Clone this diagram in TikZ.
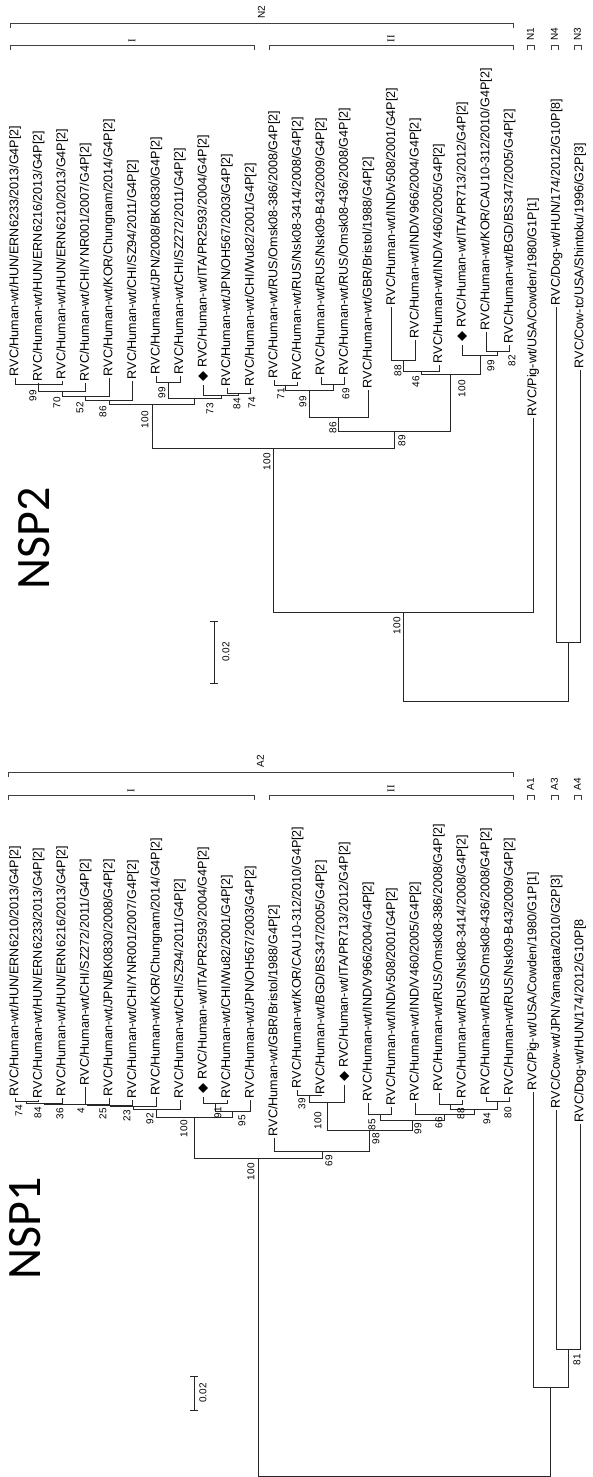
\documentclass[tikz,border=0pt]{standalone}
\usepackage{fontspec}
\setmainfont{Liberation Sans}
\newfontfamily\dvsans{DejaVu Sans}
\newfontfamily\lserif{Liberation Serif}
\newfontfamily\carlito{Carlito}
\newcommand{\dmd}{\kern2pt{\dvsans\fontsize{13}{13}\selectfont\char"25C6}\ }
\begin{document}
\begin{tikzpicture}[x=1pt,y=-1pt,line width=0.7pt,
    tip/.style={rotate=90,anchor=west,inner sep=1.5pt,font=\fontsize{12.6}{14}\selectfont},
    bs/.style={rotate=90,anchor=east,inner sep=0pt,font=\fontsize{10}{12}\selectfont},
    grp/.style={rotate=90,anchor=west,inner sep=0pt,font=\fontsize{10}{12}\selectfont},
    rom/.style={rotate=90,anchor=west,inner sep=0pt,font=\lserif\fontsize{10.5}{12}\selectfont},
    title/.style={rotate=90,inner sep=0pt,font=\carlito\fontsize{48}{50}\selectfont},
    br/.style={draw=black!75,line width=0.6pt},
    tr/.style={draw=black!85}]
\useasboundingbox (0,0) rectangle (593,1477);

%% ---------------- NSP2 ----------------
\node[title] (T2) at (34,538) {NSP2};

% clusters
\draw[br] (10,28) -- (10,23) -- (513,23) -- (513,28);
\draw[br] (10,50) -- (10,45) -- (254,45) -- (254,50);
\draw[br] (269,50) -- (269,45) -- (513,45) -- (513,50);
\draw[br] (527,50) -- (527,45) -- (534,45) -- (534,50);
\draw[br] (551,50) -- (551,45) -- (558,45) -- (558,50);
\draw[br] (574,50) -- (574,45) -- (581,45) -- (581,50);
\node[grp] (N2) at (261.5,19) {N2};
\node[rom] (N2i) at (132,42.5) {I};
\node[rom] (N2ii) at (391,42.5) {II};
\node[grp] (N1) at (530.5,41) {N1};
\node[grp] (N4) at (554.5,41) {N4};
\node[grp] (N3) at (577.5,41) {N3};

% strains
\node[tip] (a1) at (15.00,378) {RVC/Human-wt/HUN/ERN6233/2013/G4P[2]};
\node[tip] (a2) at (38.55,383) {RVC/Human-wt/HUN/ERN6216/2013/G4P[2]};
\node[tip] (a3) at (62.10,381) {RVC/Human-wt/HUN/ERN6210/2013/G4P[2]};
\node[tip] (a4) at (85.65,383) {RVC/Human-wt/CHI/YNR001/2007/G4P[2]};
\node[tip] (a5) at (109.20,378) {RVC/Human-wt/KOR/Chungnam/2014/G4P[2]};
\node[tip] (a6) at (132.75,381) {RVC/Human-wt/CHI/SZ94/2011/G4P[2]};
\node[tip] (a7) at (156.30,376) {RVC/Human-wt/JPN/2008/BK0830/G4P[2]};
\node[tip] (a8) at (179.85,376) {RVC/Human-wt/CHI/SZ272/2011/G4P[2]};
\node[tip] (a9) at (203.40,385) {\dmd RVC/Human-wt/ITA/PR2593/2004/G4P[2]};
\node[tip] (a10) at (226.95,388) {RVC/Human-wt/JPN/OH567/2003/G4P[2]};
\node[tip] (a11) at (250.50,388) {RVC/Human-wt/CHI/Wu82/2001/G4P[2]};
\node[tip] (a12) at (274.05,380) {RVC/Human-wt/RUS/Omsk08-386/2008/G4P[2]};
\node[tip] (a13) at (297.60,382) {RVC/Human-wt/RUS/Nsk08-3414/2008/G4P[2]};
\node[tip] (a14) at (321.15,377) {RVC/Human-wt/RUS/Nsk09-B43/2009/G4P[2]};
\node[tip] (a15) at (344.70,377) {RVC/Human-wt/RUS/Omsk08-436/2008/G4P[2]};
\node[tip] (a16) at (368.25,390) {RVC/Human-wt/GBR/Bristol/1988/G4P[2]};
\node[tip] (a17) at (391.80,307) {RVC/Human-wt/IND/v508/2001/G4P[2]};
\node[tip] (a18) at (415.35,340) {RVC/Human-wt/IND/V966/2004/G4P[2]};
\node[tip] (a19) at (438.90,365) {RVC/Human-wt/IND/V460/2005/G4P[2]};
\node[tip] (a20) at (462.45,345) {\dmd RVC/Human-wt/ITA/PR713/2012/G4P[2]};
\node[tip] (a21) at (486.00,332) {RVC/Human-wt/KOR/CAU10-312/2010/G4P[2]};
\node[tip] (a22) at (509.55,345) {RVC/Human-wt/BGD/BS347/2005/G4P[2]};
\node[tip] (a23) at (533.10,418) {RVC/Pig-wt/USA/Cowden/1980/G1P[1]};
\node[tip] (a24) at (556.65,307) {RVC/Dog-wt/HUN/174/2012/G10P[8]};
\node[tip] (a25) at (580.20,370) {RVC/Cow-tc/USA/Shintoku/1996/G2P[3]};

% internal nodes
\coordinate (q1) at (38.55,384);
\coordinate (q2) at (62.10,391);
\coordinate (q3) at (85.65,396);
\coordinate (q4) at (109.20,400);
\coordinate (q5) at (168.08,382);
\coordinate (q6) at (238.73,393);
\coordinate (q7) at (221.06,395);
\coordinate (q8) at (194.57,398);
\coordinate (q9) at (151.90,404);
\coordinate (q10) at (285.83,385);
\coordinate (q11) at (332.93,384);
\coordinate (q12) at (309.38,390);
\coordinate (q13) at (338.80,417);
\coordinate (q14) at (403.58,360);
\coordinate (q15) at (421.24,371);
\coordinate (q16) at (497.78,351);
\coordinate (q17) at (480.11,355);
\coordinate (q18) at (450.68,374);
\coordinate (q19) at (394.74,431);
\coordinate (q20) at (273.32,448);
\coordinate (q21) at (403.21,612);
\coordinate (q22) at (568.43,642);
\coordinate (q23) at (485.82,701);

\draw[tr] (q1) -| (a1.west) (q1) -| (a2.west) (q1) -| (a3.west);
\draw[tr] (q2) -| (q1) (q2) -| (a4.west);
\draw[tr] (q3) -| (q2) (q3) -| (a5.west);
\draw[tr] (q4) -| (q3) (q4) -| (a6.west);
\draw[tr] (q5) -| (a7.west) (q5) -| (a8.west);
\draw[tr] (q6) -| (a10.west) (q6) -| (a11.west);
\draw[tr] (q7) -| (a9.west) (q7) -| (q6);
\draw[tr] (q8) -| (q5) (q8) -| (q7);
\draw[tr] (q9) -| (q4) (q9) -| (q8);
\draw[tr] (q10) -| (a12.west) (q10) -| (a13.west);
\draw[tr] (q11) -| (a14.west) (q11) -| (a15.west);
\draw[tr] (q12) -| (q10) (q12) -| (q11);
\draw[tr] (q13) -| (q12) (q13) -| (a16.west);
\draw[tr] (q14) -| (a17.west) (q14) -| (a18.west);
\draw[tr] (q15) -| (q14) (q15) -| (a19.west);
\draw[tr] (q16) -| (a21.west) (q16) -| (a22.west);
\draw[tr] (q17) -| (a20.west) (q17) -| (q16);
\draw[tr] (q18) -| (q15) (q18) -| (q17);
\draw[tr] (q19) -| (q13) (q19) -| (q18);
\draw[tr] (q20) -| (q9) (q20) -| (q19);
\draw[tr] (q21) -| (q20) (q21) -| (a23.west);
\draw[tr] (q22) -| (a24.west) (q22) -| (a25.west);
\draw[tr] (q23) -| (q21) (q23) -| (q22);

% bootstrap
\node[bs] (q1b) at (33,390) {99};
\node[bs] (q2b) at (57,397) {70};
\node[bs] (q3b) at (80,402) {52};
\node[bs] (q4b) at (103,406) {86};
\node[bs] (q9b) at (145,411) {100};
\node[bs] (q5b) at (162,387) {99};
\node[bs] (q8b) at (210,403) {73};
\node[bs] (q7b) at (237,398) {84};
\node[bs] (q6b) at (252,397) {74};
\node[bs] (q10b) at (281,388) {71};
\node[bs] (q12b) at (303,396) {99};
\node[bs] (q11b) at (346,388) {69};
\node[bs] (q13b) at (333,422) {86};
\node[bs] (q14b) at (398,365) {88};
\node[bs] (q15b) at (416,376) {46};
\node[bs] (q18b) at (462,380) {100};
\node[bs] (q17b) at (491,360) {99};
\node[bs] (q16b) at (512,355) {82};
\node[bs] (q19b) at (402,435) {89};
\node[bs] (q20b) at (267,453) {100};
\node[bs] (q21b) at (397,617) {100};

% scale
\coordinate (s2a) at (214,621);
\coordinate (s2b) at (214,683);
\draw[tr] (s2a) -- (s2b);
\draw[tr] ([xshift=-4pt]s2a) -- ([xshift=4pt]s2a);
\draw[tr] ([xshift=-4pt]s2b) -- ([xshift=4pt]s2b);
\node[bs,anchor=center] (s2l) at (226,652) {0.02};

%% ---------------- NSP1 ----------------
\node[title] (T1) at (25,1228) {NSP1};

% clusters
\draw[br] (8,777) -- (8,772) -- (513,772) -- (513,777);
\draw[br] (8,800) -- (8,795) -- (254,795) -- (254,800);
\draw[br] (269,800) -- (269,795) -- (513,795) -- (513,800);
\draw[br] (527,800) -- (527,795) -- (534,795) -- (534,800);
\draw[br] (551,800) -- (551,795) -- (558,795) -- (558,800);
\draw[br] (574,800) -- (574,795) -- (581,795) -- (581,800);
\node[grp] (A2) at (260.5,768) {A2};
\node[rom] (A2i) at (131,792.5) {I};
\node[rom] (A2ii) at (391,792.5) {II};
\node[grp] (A1) at (530.5,791) {A1};
\node[grp] (A3) at (554.5,791) {A3};
\node[grp] (A4) at (577.5,791) {A4};

% strains
\node[tip] (b1) at (15.00,1098) {RVC/Human-wt/HUN/ERN6210/2013/G4P[2]};
\node[tip] (b2) at (38.55,1100) {RVC/Human-wt/HUN/ERN6233/2013/G4P[2]};
\node[tip] (b3) at (62.10,1098) {RVC/Human-wt/HUN/ERN6216/2013/G4P[2]};
\node[tip] (b4) at (85.65,1087) {RVC/Human-wt/CHI/SZ272/2011/G4P[2]};
\node[tip] (b5) at (109.20,1098) {RVC/Human-wt/JPN/BK0830/2008/G4P[2]};
\node[tip] (b6) at (132.75,1100) {RVC/Human-wt/CHI/YNR001/2007/G4P[2]};
\node[tip] (b7) at (156.30,1097) {RVC/Human-wt/KOR/Chungnam/2014/G4P[2]};
\node[tip] (b8) at (179.85,1100) {RVC/Human-wt/CHI/SZ94/2011/G4P[2]};
\node[tip] (b9) at (203.40,1097) {\dmd RVC/Human-wt/ITA/PR2593/2004/G4P[2]};
\node[tip] (b10) at (226.95,1100) {RVC/Human-wt/CHI/Wu82/2001/G4P[2]};
\node[tip] (b11) at (250.50,1100) {RVC/Human-wt/JPN/OH567/2003/G4P[2]};
\node[tip] (b12) at (274.05,1138) {RVC/Human-wt/GBR/Bristol/1988/G4P[2]};
\node[tip] (b13) at (297.60,1090) {RVC/Human-wt/KOR/CAU10-312/2010/G4P[2]};
\node[tip] (b14) at (321.15,1096) {RVC/Human-wt/BGD/BS347/2005/G4P[2]};
\node[tip] (b15) at (344.70,1085) {\dmd RVC/Human-wt/ITA/PR713/2012/G4P[2]};
\node[tip] (b16) at (368.25,1103) {RVC/Human-wt/IND/V966/2004/G4P[2]};
\node[tip] (b17) at (391.80,1107) {RVC/Human-wt/IND/v508/2001/G4P[2]};
\node[tip] (b18) at (415.35,1103) {RVC/Human-wt/IND/V460/2005/G4P[2]};
\node[tip] (b19) at (438.90,1093) {RVC/Human-wt/RUS/Omsk08-386/2008/G4P[2]};
\node[tip] (b20) at (462.45,1100) {RVC/Human-wt/RUS/Nsk08-3414/2008/G4P[2]};
\node[tip] (b21) at (486.00,1097) {RVC/Human-wt/RUS/Omsk08-436/2008/G4P[2]};
\node[tip] (b22) at (509.55,1097) {RVC/Human-wt/RUS/Nsk09-B43/2009/G4P[2]};
\node[tip] (b23) at (533.10,1092) {RVC/Pig-wt/USA/Cowden/1980/G1P[1]};
\node[tip] (b24) at (556.65,1110) {RVC/Cow-wt/JPN/Yamagata/2010/G2P[3]};
\node[tip] (b25) at (580.20,1124) {RVC/Dog-wt/HUN/174/2012/G10P[8};

% internal nodes
\coordinate (r1) at (26.78,1101);
\coordinate (r2) at (44.44,1103);
\coordinate (r3) at (65.05,1104);
\coordinate (r4) at (87.12,1104.5);
\coordinate (r5) at (109.94,1105);
\coordinate (r6) at (133.12,1106.5);
\coordinate (r7) at (156.49,1109);
\coordinate (r8) at (215.18,1103);
\coordinate (r9) at (232.84,1111);
\coordinate (r10) at (194.66,1117);
\coordinate (r11) at (309.38,1095);
\coordinate (r12) at (327.04,1102);
\coordinate (r13) at (380.03,1114);
\coordinate (r14) at (450.68,1104);
\coordinate (r15) at (497.78,1101);
\coordinate (r16) at (474.23,1109);
\coordinate (r17) at (444.79,1114);
\coordinate (r18) at (412.41,1120);
\coordinate (r19) at (369.73,1130);
\coordinate (r20) at (321.89,1151);
\coordinate (r21) at (258.28,1158);
\coordinate (r22) at (568.43,1349);
\coordinate (r23) at (550.77,1387);
\coordinate (r24) at (404.52,1476);

\draw[tr] (r1) -| (b1.west) (r1) -| (b2.west);
\draw[tr] (r2) -| (r1) (r2) -| (b3.west);
\draw[tr] (r3) -| (r2) (r3) -| (b4.west);
\draw[tr] (r4) -| (r3) (r4) -| (b5.west);
\draw[tr] (r5) -| (r4) (r5) -| (b6.west);
\draw[tr] (r6) -| (r5) (r6) -| (b7.west);
\draw[tr] (r7) -| (r6) (r7) -| (b8.west);
\draw[tr] (r8) -| (b9.west) (r8) -| (b10.west);
\draw[tr] (r9) -| (r8) (r9) -| (b11.west);
\draw[tr] (r10) -| (r7) (r10) -| (r9);
\draw[tr] (r11) -| (b13.west) (r11) -| (b14.west);
\draw[tr] (r12) -| (r11) (r12) -| (b15.west);
\draw[tr] (r13) -| (b16.west) (r13) -| (b17.west);
\draw[tr] (r14) -| (b19.west) (r14) -| (b20.west);
\draw[tr] (r15) -| (b21.west) (r15) -| (b22.west);
\draw[tr] (r16) -| (r14) (r16) -| (r15);
\draw[tr] (r17) -| (b18.west) (r17) -| (r16);
\draw[tr] (r18) -| (r13) (r18) -| (r17);
\draw[tr] (r19) -| (r12) (r19) -| (r18);
\draw[tr] (r20) -| (b12.west) (r20) -| (r19);
\draw[tr] (r21) -| (r10) (r21) -| (r20);
\draw[tr] (r22) -| (b24.west) (r22) -| (b25.west);
\draw[tr] (r23) -| (b23.west) (r23) -| (r22);
\draw[tr] (r24) -| (r21) (r24) -| (r23);

% bootstrap
\node[bs] (r1b) at (19,1105) {74};
\node[bs] (r2b) at (38,1107) {84};
\node[bs] (r3b) at (60,1108) {36};
\node[bs] (r4b) at (81,1108) {4};
\node[bs] (r5b) at (103,1108) {25};
\node[bs] (r6b) at (127,1110) {23};
\node[bs] (r7b) at (150,1113) {92};
\node[bs] (r10b) at (184,1120) {100};
\node[bs] (r8b) at (218,1107) {91};
\node[bs] (r9b) at (242,1115) {95};
\node[bs] (r11b) at (302,1098) {39};
\node[bs] (r12b) at (318,1112) {100};
\node[bs] (r13b) at (372,1119) {85};
\node[bs] (r18b) at (418,1123) {99};
\node[bs] (r17b) at (439,1117) {66};
\node[bs] (r14b) at (461,1108) {88};
\node[bs] (r16b) at (487,1113) {94};
\node[bs] (r15b) at (508,1107) {80};
\node[bs] (r19b) at (376,1133) {98};
\node[bs] (r20b) at (329,1155) {69};
\node[bs] (r21b) at (251,1163) {100};
\node[bs] (r22b) at (577,1354) {81};

% scale
\coordinate (s1a) at (194,1376);
\coordinate (s1b) at (194,1410);
\draw[tr] (s1a) -- (s1b);
\draw[tr] ([xshift=-4pt]s1a) -- ([xshift=4pt]s1a);
\draw[tr] ([xshift=-4pt]s1b) -- ([xshift=4pt]s1b);
\node[bs,anchor=center] (s1l) at (203,1393) {0.02};
\end{tikzpicture}
\end{document}
